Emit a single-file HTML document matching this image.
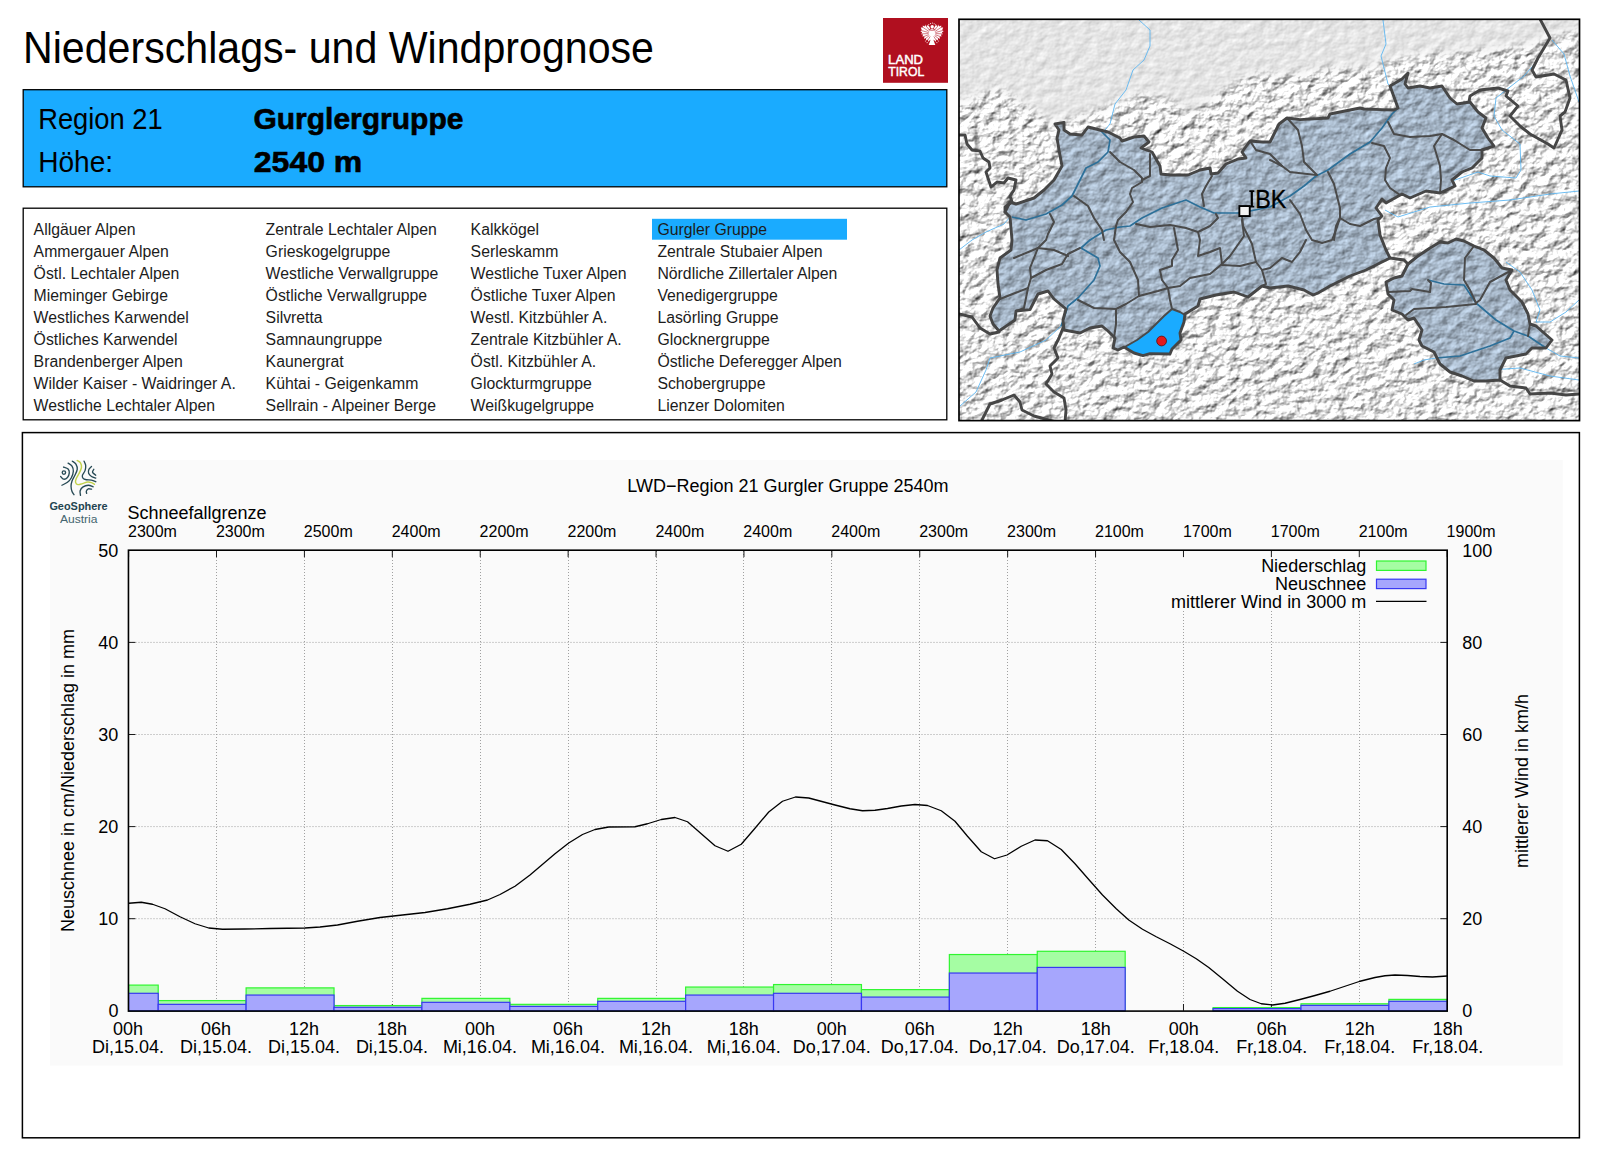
<!DOCTYPE html>
<html lang="de"><head><meta charset="utf-8"><title>Niederschlags- und Windprognose</title>
<style>html,body{margin:0;padding:0;background:#fff;}body{width:1600px;height:1153px;overflow:hidden;}svg{display:block;}text{font-family:'Liberation Sans', sans-serif;}</style>
</head><body>
<svg width="1600" height="1153" viewBox="0 0 1600 1153">
<rect width="1600" height="1153" fill="#fff"/>
<g id="header">
<text x="23.0" y="62.5" font-size="44" textLength="631" lengthAdjust="spacingAndGlyphs">Niederschlags- und Windprognose</text>
<rect x="23.2" y="89.7" width="923.6" height="97.1" fill="#1aabff" stroke="#000" stroke-width="1.3"/>
<text x="38.2" y="128.6" font-size="29" textLength="124.5" lengthAdjust="spacingAndGlyphs">Region 21</text>
<text x="253.4" y="128.6" font-size="29" font-weight="700" textLength="210" lengthAdjust="spacingAndGlyphs" stroke="#000" stroke-width="0.6">Gurglergruppe</text>
<text x="38.2" y="171.6" font-size="29" textLength="75" lengthAdjust="spacingAndGlyphs">Höhe:</text>
<text x="253.8" y="171.6" font-size="29" font-weight="700" textLength="108.5" lengthAdjust="spacingAndGlyphs" stroke="#000" stroke-width="0.6">2540 m</text>
</g>
<g id="landtirol">
<rect x="883" y="18" width="65" height="64.8" fill="#b00f1f"/>
<text x="888.1" y="63.9" font-size="12.3" fill="#fff" textLength="35" lengthAdjust="spacingAndGlyphs" stroke="#fff" stroke-width="0.45">LAND</text>
<text x="888.2" y="75.9" font-size="12.3" fill="#fff" textLength="36" lengthAdjust="spacingAndGlyphs" stroke="#fff" stroke-width="0.45">TIROL</text>
<g id="eagle" fill="#fff" transform="translate(932,34)"><path d="M1.2,-4.0 L2.6,-7.2 L4.2,-9.3 L5.2,-7.6 L6.6,-9.6 L7.4,-7.4 L9.2,-8.6 L9.3,-6.4 L11.2,-6.4 L10.3,-4.3 L11.6,-2.8 L9.9,-1.7 L10.9,0.2 L8.9,0.6 L9.6,2.7 L7.6,2.6 L7.9,4.9 L6.0,4.3 L5.9,6.6 L4.3,5.6 L3.6,7.8 L2.3,6.3 L1.2,5.0 Z"/><path d="M-1.2,-4.0 L-2.6,-7.2 L-4.2,-9.3 L-5.2,-7.6 L-6.6,-9.6 L-7.4,-7.4 L-9.2,-8.6 L-9.3,-6.4 L-11.2,-6.4 L-10.3,-4.3 L-11.6,-2.8 L-9.9,-1.7 L-10.9,0.2 L-8.9,0.6 L-9.6,2.7 L-7.6,2.6 L-7.9,4.9 L-6.0,4.3 L-5.9,6.6 L-4.3,5.6 L-3.6,7.8 L-2.3,6.3 L-1.2,5.0 Z"/><ellipse cx="0" cy="0.8" rx="2.7" ry="6.2"/><path d="M-1.3,5.5 L-3.3,10.9 L3.3,10.9 L1.3,5.5 Z"/><circle cx="0.2" cy="-7.2" r="1.7"/><circle cx="-1.4" cy="-10.4" r="0.55"/><circle cx="0.4" cy="-11" r="0.55"/><circle cx="2.1" cy="-10.2" r="0.55"/><circle cx="-3.2" cy="-9.4" r="0.5"/><circle cx="3.6" cy="-9.2" r="0.5"/><circle cx="-5" cy="8.6" r="0.7"/><circle cx="5" cy="8.6" r="0.7"/><circle cx="-6.6" cy="7" r="0.5"/><circle cx="6.6" cy="7" r="0.5"/><path d="M-2.1,-3.2 L-7.7,-10.4 M-2.8,-2.4 L-10.4,-7.5 M-3.3,-1.4 L-12.0,-3.9 M-3.4,-0.4 L-12.5,-0.1 M-3.2,0.7 L-11.7,3.8 M-2.7,1.6 L-9.9,7.2 M-1.8,2.4 L-6.6,10.1 M2.1,-3.2 L7.7,-10.4 M2.8,-2.4 L10.4,-7.5 M3.3,-1.4 L12.0,-3.9 M3.4,-0.4 L12.5,-0.1 M3.2,0.7 L11.7,3.8 M2.7,1.6 L9.9,7.2 M1.8,2.4 L6.6,10.1" stroke="#b00f1f" stroke-width="0.55" fill="none"/><path d="M-3.2,-5.2 a3.4,2.2 0 0 0 6.4,0" stroke="#b00f1f" stroke-width="0.7" fill="none"/></g>
</g>
<g id="list">
<rect x="23.2" y="208.2" width="923.6" height="211.6" fill="#fff" stroke="#000" stroke-width="1.3"/>
<rect x="652" y="218.8" width="195" height="20.9" fill="#1aabff"/>
<g font-size="15.8" fill="#1c1c1c">
<text x="33.6" y="234.6">Allgäuer Alpen</text>
<text x="33.6" y="256.6">Ammergauer Alpen</text>
<text x="33.6" y="278.6">Östl. Lechtaler Alpen</text>
<text x="33.6" y="300.6">Mieminger Gebirge</text>
<text x="33.6" y="322.6">Westliches Karwendel</text>
<text x="33.6" y="344.6">Östliches Karwendel</text>
<text x="33.6" y="366.6">Brandenberger Alpen</text>
<text x="33.6" y="388.6">Wilder Kaiser - Waidringer A.</text>
<text x="33.6" y="410.6">Westliche Lechtaler Alpen</text>
<text x="265.6" y="234.6">Zentrale Lechtaler Alpen</text>
<text x="265.6" y="256.6">Grieskogelgruppe</text>
<text x="265.6" y="278.6">Westliche Verwallgruppe</text>
<text x="265.6" y="300.6">Östliche Verwallgruppe</text>
<text x="265.6" y="322.6">Silvretta</text>
<text x="265.6" y="344.6">Samnaungruppe</text>
<text x="265.6" y="366.6">Kaunergrat</text>
<text x="265.6" y="388.6">Kühtai - Geigenkamm</text>
<text x="265.6" y="410.6">Sellrain - Alpeiner Berge</text>
<text x="470.6" y="234.6">Kalkkögel</text>
<text x="470.6" y="256.6">Serleskamm</text>
<text x="470.6" y="278.6">Westliche Tuxer Alpen</text>
<text x="470.6" y="300.6">Östliche Tuxer Alpen</text>
<text x="470.6" y="322.6">Westl. Kitzbühler A.</text>
<text x="470.6" y="344.6">Zentrale Kitzbühler A.</text>
<text x="470.6" y="366.6">Östl. Kitzbühler A.</text>
<text x="470.6" y="388.6">Glockturmgruppe</text>
<text x="470.6" y="410.6">Weißkugelgruppe</text>
<text x="657.4" y="234.6">Gurgler Gruppe</text>
<text x="657.4" y="256.6">Zentrale Stubaier Alpen</text>
<text x="657.4" y="278.6">Nördliche Zillertaler Alpen</text>
<text x="657.4" y="300.6">Venedigergruppe</text>
<text x="657.4" y="322.6">Lasörling Gruppe</text>
<text x="657.4" y="344.6">Glocknergruppe</text>
<text x="657.4" y="366.6">Östliche Deferegger Alpen</text>
<text x="657.4" y="388.6">Schobergruppe</text>
<text x="657.4" y="410.6">Lienzer Dolomiten</text>
</g></g>
<g id="map">
<defs>
<clipPath id="mapclip"><rect x="959" y="19.3" width="620.5" height="401.3"/></clipPath>
<filter id="fbg" x="0" y="0" width="100%" height="100%" color-interpolation-filters="sRGB"><feTurbulence type="fractalNoise" baseFrequency="0.085 0.11" numOctaves="5" seed="5" result="n"/><feDiffuseLighting in="n" surfaceScale="2.6" diffuseConstant="1.25" lighting-color="#ffffff" result="l"><feDistantLight azimuth="225" elevation="48"/></feDiffuseLighting><feComposite in="l" in2="SourceGraphic" operator="in"/></filter>
<filter id="ftir" x="0" y="0" width="100%" height="100%" color-interpolation-filters="sRGB"><feTurbulence type="fractalNoise" baseFrequency="0.085 0.11" numOctaves="5" seed="5" result="n"/><feDiffuseLighting in="n" surfaceScale="1.5" diffuseConstant="1.2" lighting-color="#b7c9dc" result="l"><feDistantLight azimuth="225" elevation="48"/></feDiffuseLighting><feComposite in="l" in2="SourceGraphic" operator="in"/></filter>
<filter id="fflat" x="-5%" y="-10%" width="110%" height="120%" color-interpolation-filters="sRGB"><feTurbulence type="fractalNoise" baseFrequency="0.085 0.11" numOctaves="5" seed="5" result="n"/><feDiffuseLighting in="n" surfaceScale="0.45" diffuseConstant="1.205" lighting-color="#ffffff" result="l"><feDistantLight azimuth="225" elevation="48"/></feDiffuseLighting><feGaussianBlur in="SourceGraphic" stdDeviation="4" result="b"/><feComposite in="l" in2="b" operator="in"/></filter>
</defs>
<g clip-path="url(#mapclip)">
<rect x="959" y="19" width="621" height="402" fill="#dedede"/>
<rect x="959" y="19" width="621" height="402" fill="#dedede" filter="url(#fbg)"/>
<path d="M950,10 L1590,10 L1590,28 L1550,38 L1526,46 L1494,50 L1462,54 L1430,54 L1402,58 L1382,64 L1358,70 L1334,68 L1310,72 L1282,76 L1262,74 L1246,78 L1226,88 L1206,104 L1190,112 L1174,102 L1150,94 L1126,98 L1110,106 L1082,116 L1050,124 L1030,108 L998,88 L974,98 L950,104 Z" fill="#e4e4e4" filter="url(#fflat)"/>
<g fill="none" stroke="#5db7f2" stroke-width="0.9" stroke-linejoin="round">
<path d="M1139,20 L1150,30 L1150,46 L1144,60 L1133,70 L1126,90 L1115,104 L1110,124 L1105,130"/>
<path d="M1010,217 L1004,224 L986,232 L972,240 L959,250"/>
<path d="M1061,326 L1046,340 L1020,352 L990,358 L986,370 L976,392 L960,406"/>
<path d="M1390,86 L1388,84 L1381,56 L1386,44 L1383,20"/>
<path d="M1579,102 L1570,76 L1564,54 L1552,40"/>
<path d="M1538,60 L1524,76 L1510,87 L1496,98 L1494,116 L1502,130 L1520,144 L1521,170 L1516,178 L1490,176 L1478,172 L1452,181"/>
<path d="M1385,210 L1398,217 L1430,207 L1470,203 L1510,200 L1550,194 L1579,191"/>
<path d="M1506,262 L1520,272 L1532,290 L1540,310 L1536,322 L1550,322 L1566,312 L1579,300"/>
<path d="M1414,364 L1424,360 L1436,358"/>
<path d="M1470,364 L1490,370 L1520,368 L1550,376 L1579,380"/>
<path d="M1546,348 L1560,356 L1579,358"/>
</g>
<path d="M1005,212 L1010,202 L1016,204 L1034,198 L1044,190 L1054,180 L1062,166 L1059,150 L1057,138 L1059,130 L1055,124 L1064,122.4 L1064,130 L1070,134 L1082,135 L1088,127 L1100,130 L1108,132 L1120,138 L1122,141 L1134,137 L1144,136 L1149,142 L1141,148 L1152,152 L1160,166 L1161,174 L1170,175 L1188,175 L1200,170 L1210,168 L1211,174 L1218,173 L1226,164 L1238,159 L1246,158 L1242,152 L1250,141 L1262,142 L1270,142 L1279,124 L1287,118 L1300,119.6 L1328,118 L1330,114 L1360,108 L1364,109 L1382,109.6 L1394,110 L1398,108 L1390,86 L1402,79 L1408,73 L1405,84 L1408,88 L1420,86 L1430,88 L1442,86 L1450,98 L1457,104 L1470,102 L1478,112 L1486,118 L1482,128 L1488,138 L1494,146 L1482,150 L1482,158 L1472,168 L1462,172 L1452,180 L1455,186 L1440,193 L1426,191 L1410,198 L1402,194 L1386,203 L1382,199 L1376,208 L1382,216 L1378,220 L1380,235 L1386,250 L1390,258 L1378,264 L1366,270 L1350,276 L1330,286 L1318,293 L1313,295 L1304,290 L1288,286 L1270,288 L1262,286 L1248,297 L1234,292 L1216,295 L1200,299 L1198,306 L1185,314 L1184,322 L1180,333 L1181,340 L1172,349 L1170,354 L1150,353.6 L1143,355.6 L1134,353 L1124,347 L1118,350 L1113,348 L1115,338 L1108,331 L1102,326 L1090,328 L1080,333 L1064,330 L1063,320 L1066,309 L1054,299 L1048,291 L1038,294 L1030,309.6 L1016,311 L1015,320 L999,331 L993,324 L990,316 L993,308 L1000,298 L998,284 L997,270 L1000,258 L1011,250 L1012,240 L1010,217 Z M1408,264 L1418,256 L1430,248 L1440,242 L1448,243 L1456,239 L1464,241 L1474,246 L1484,250 L1494,258 L1502,268 L1512,270 L1506,280 L1510,290 L1522,302 L1528,314 L1530,324 L1536,326 L1552,340 L1546,348 L1532,348 L1526,354 L1506,358 L1500,370 L1500,380 L1486,381 L1474,381 L1462,376 L1450,372 L1440,364 L1434,352 L1422,346 L1419,340 L1422,330 L1414,318 L1408,320 L1402,314 L1392,310 L1394,300 L1388,294 L1386,282 L1394,278 L1402,276 Z" fill="#9aabbd" filter="url(#ftir)"/>
<path d="M1123,348 L1137,340 L1148,332 L1156,324 L1164,316 L1172,309 L1180,312 L1185,315 L1184,322 L1180,333 L1181,340 L1172,349 L1170,354 L1150,353.6 L1143,355.6 L1134,353 L1124,347 Z" fill="#1aabff" stroke="none"/>
<g fill="none" stroke="#2d7099" stroke-width="1.7" stroke-linejoin="round">
<path d="M1100,130 L1110,140 L1108,152 L1098,162 L1086,168 L1078,184 L1072,196 L1062,205 L1046,214 L1026,220 L1012,217"/>
<path d="M1061,326 L1064,318 L1068,306 L1078,298 L1094,280 L1100,266 L1098,258 L1081,248 L1090,240 L1106,230 L1120,227 L1130,226 L1142,218 L1162,208 L1186,200 L1200,207 L1214,213 L1238,213 L1250,211 L1270,207 L1290,196 L1304,186 L1316,176 L1328,170 L1350,154 L1370,142 L1382,128 L1392,114 L1398,108 L1390,86"/>
<path d="M1428,280 L1444,284 L1464,285 L1476,303 L1496,320 L1514,331 L1528,336 L1546,348"/>
<path d="M1436,358 L1460,356 L1490,346 L1510,338 L1514,331"/>
</g>
<g fill="none" stroke="#4a4a4a" stroke-width="2" stroke-linejoin="round" stroke-linecap="round">
<path d="M1110,152 L1120,162 L1134,170 L1142,178 L1142,182 L1132,188 L1130,194 L1133,202 L1126,212 L1118,220 L1116,226"/>
<path d="M1150,154 L1150,176 L1142,180"/>
<path d="M1074,196 L1088,206 L1094,218 L1102,230 L1104,240"/>
<path d="M1050,214 L1054,222 L1048,234 L1046,240 L1038,248 L1014,258"/>
<path d="M1212,176 L1206,186 L1202,194 L1204,206"/>
<path d="M1136,224 L1150,227 L1170,225 L1186,228 L1198,232 L1210,226 L1218,218 L1216,214"/>
<path d="M1242,216 L1243,226 L1250,240 L1252,244 L1256,262 L1262,270 L1266,284 L1262,286"/>
<path d="M1198,232 L1200,240 L1198,256 L1210,252 L1220,248 L1222,264"/>
<path d="M1174,228 L1178,250 L1172,260 L1172,266 L1160,270 L1162,280 L1168,288"/>
<path d="M1250,141 L1256,150 L1270,154 L1282,166"/>
<path d="M1038,248 L1030,268 L1031,278 L1028,288 L1000,299"/>
<path d="M1031,278 L1046,270 L1062,264 L1068,254 L1080,248"/>
<path d="M1038,248 L1054,250 L1068,256"/>
<path d="M1028,288 L1024,308 L1016,311"/>
<path d="M1116,226 L1114,240 L1120,252 L1130,262 L1138,280 L1139,296 L1126,304 L1116,309 L1094,308 L1078,300"/>
<path d="M1116,309 L1116,324 L1114,338"/>
<path d="M1139,296 L1158,291 L1168,288 L1170,300 L1172,309"/>
<path d="M1168,288 L1180,286 L1190,278 L1210,274 L1222,264 L1230,256 L1244,236 L1242,220"/>
<path d="M1222,265 L1240,266 L1256,262"/>
<path d="M1262,270 L1270,268 L1282,258 L1292,262 L1300,252 L1306,240"/>
<path d="M1287,118 L1298,130 L1302,146 L1304,162 L1314,172 L1317,175"/>
<path d="M1270,160 L1282,166 L1290,172 L1316,175"/>
<path d="M1328,172 L1334,184 L1340,208 L1340,218 L1336,226 L1334,240"/>
<path d="M1290,200 L1300,214 L1306,230 L1312,240 L1322,243 L1332,240 L1336,230 L1340,218"/>
<path d="M1372,143 L1384,146 L1390,158 L1386,168 L1385,180 L1390,188 L1400,195"/>
<path d="M1388,122 L1394,134 L1410,137 L1430,136 L1442,134 L1454,140 L1470,150 L1482,150"/>
<path d="M1442,134 L1434,146 L1440,166 L1441,180 L1440,193"/>
<path d="M1340,218 L1350,224 L1360,226 L1374,219 L1379,218"/>
<path d="M1123,348 L1137,340 L1148,332 L1156,324 L1164,316 L1172,309"/>
<path d="M1172,309 L1180,312 L1185,315"/>
<path d="M1474,246 L1465,258 L1464,280 L1470,290 L1476,303"/>
<path d="M1512,270 L1490,282 L1480,300 L1476,303"/>
<path d="M1388,292 L1410,291 L1412,289 L1430,292 L1431,283 L1428,280"/>
<path d="M1406,315 L1414,309 L1446,307 L1476,304"/>
<path d="M1528,336 L1530,324"/>
</g>
<g fill="none" stroke="#464646" stroke-width="2.9" stroke-linejoin="round" stroke-linecap="round">
<path d="M1005,212 L1010,202 L1016,204 L1034,198 L1044,190 L1054,180 L1062,166 L1059,150 L1057,138 L1059,130 L1055,124 L1064,122.4 L1064,130 L1070,134 L1082,135 L1088,127 L1100,130 L1108,132 L1120,138 L1122,141 L1134,137 L1144,136 L1149,142 L1141,148 L1152,152 L1160,166 L1161,174 L1170,175 L1188,175 L1200,170 L1210,168 L1211,174 L1218,173 L1226,164 L1238,159 L1246,158 L1242,152 L1250,141 L1262,142 L1270,142 L1279,124 L1287,118 L1300,119.6 L1328,118 L1330,114 L1360,108 L1364,109 L1382,109.6 L1394,110 L1398,108 L1390,86 L1402,79 L1408,73 L1405,84 L1408,88 L1420,86 L1430,88 L1442,86 L1450,98 L1457,104 L1470,102 L1478,112 L1486,118 L1482,128 L1488,138 L1494,146 L1482,150 L1482,158 L1472,168 L1462,172 L1452,180 L1455,186 L1440,193 L1426,191 L1410,198 L1402,194 L1386,203 L1382,199 L1376,208 L1382,216 L1378,220 L1380,235 L1386,250 L1390,258 L1378,264 L1366,270 L1350,276 L1330,286 L1318,293 L1313,295 L1304,290 L1288,286 L1270,288 L1262,286 L1248,297 L1234,292 L1216,295 L1200,299 L1198,306 L1185,314 L1184,322 L1180,333 L1181,340 L1172,349 L1170,354 L1150,353.6 L1143,355.6 L1134,353 L1124,347 L1118,350 L1113,348 L1115,338 L1108,331 L1102,326 L1090,328 L1080,333 L1064,330 L1063,320 L1066,309 L1054,299 L1048,291 L1038,294 L1030,309.6 L1016,311 L1015,320 L999,331 L993,324 L990,316 L993,308 L1000,298 L998,284 L997,270 L1000,258 L1011,250 L1012,240 L1010,217 L1005,212"/>
<path d="M1408,264 L1418,256 L1430,248 L1440,242 L1448,243 L1456,239 L1464,241 L1474,246 L1484,250 L1494,258 L1502,268 L1512,270 L1506,280 L1510,290 L1522,302 L1528,314 L1530,324 L1536,326 L1552,340 L1546,348 L1532,348 L1526,354 L1506,358 L1500,370 L1500,380 L1486,381 L1474,381 L1462,376 L1450,372 L1440,364 L1434,352 L1422,346 L1419,340 L1422,330 L1414,318 L1408,320 L1402,314 L1392,310 L1394,300 L1388,294 L1386,282 L1394,278 L1402,276 L1408,264"/>
<path d="M1390,258 L1404,260 L1408,264"/>
<path d="M1469,102 L1470,96 L1480,90 L1498,88 L1508,91 L1506,96 L1518,106 L1510,116 L1520,126 L1530,134 L1548,144 L1554,148 L1562,130 L1560,116 L1565,112 L1570,98 L1566,80 L1554,74 L1536,77 L1532,70 L1538,58 L1550,38 L1540,19"/>
<path d="M959,135 L965,135 L967,144 L972,150 L980,151 L983,158 L989,162 L990,168 L986,172 L991,187 L997,182 L1004,183 L1008,178 L1016,180 L1014,190 L1010,196 L1012,202 L1005,207 L1005,212"/>
<path d="M959,314 L972,317 L980,328 L990,334 L999,332"/>
<path d="M1063,328 L1059,338 L1054,348 L1058,358 L1050,366 L1052,374 L1046,384 L1054,392 L1064,398 L1066,410 L1065,422"/>
<path d="M981,422 L990,404 L1002,400 L1014,395 L1020,402 L1022,410 L1034,416 L1056,422"/>
<path d="M1500,380 L1510,386 L1526,388 L1530,394 L1550,393 L1566,395 L1579,394"/>
</g>
<circle cx="1161.6" cy="341" r="4.9" fill="#e3191c" stroke="#5a1010" stroke-width="0.8"/>
<rect x="1239.35" y="206.05" width="10.4" height="10" fill="#f3f3f3" stroke="#000" stroke-width="1.9"/>
<path d="M1249.3,190.3 h5 v1.8 h-1.4 v13.7 h1.4 v1.8 h-5 v-1.8 h1.4 v-13.7 h-1.4 Z" fill="#000"/><text x="1255.2" y="207.6" font-size="25" textLength="31.2" lengthAdjust="spacingAndGlyphs" stroke="#000" stroke-width="0.3">BK</text>
</g>
<rect x="959" y="19.3" width="620.5" height="401.3" fill="none" stroke="#000" stroke-width="1.7"/>
</g>
<g id="chart">
<rect x="22.4" y="432.6" width="1557" height="705.2" fill="#fff" stroke="#000" stroke-width="1.5"/>
<rect x="50" y="460" width="1512.8" height="605.5" fill="#fafafa"/>
<g fill="none" stroke="#274a55" stroke-width="1.35" stroke-linecap="round">
<circle cx="63.9" cy="472.6" r="1.7"/>
<path d="M63.57,467.04 C64.33,467.36 67.17,468.01 68.12,468.99 C69.08,469.96 69.40,471.48 69.29,472.89 C69.18,474.30 68.42,476.39 67.47,477.45 C66.52,478.50 64.71,479.37 63.57,479.20 C62.43,479.04 61.13,476.93 60.64,476.47"/>
<path d="M68.12,463.13 C68.77,463.62 71.16,464.71 72.02,466.06 C72.89,467.42 73.43,469.31 73.33,471.27 C73.22,473.22 72.35,475.93 71.37,477.77 C70.40,479.62 69.04,481.08 67.47,482.33 C65.90,483.57 62.86,484.77 61.94,485.25"/>
<path d="M72.35,461.18 C72.95,461.67 75.12,462.75 75.93,464.11 C76.74,465.46 77.45,467.36 77.23,469.31 C77.01,471.27 75.49,473.87 74.63,475.82 C73.76,477.77 72.62,479.29 72.02,481.02 C71.43,482.76 71.05,484.49 71.05,486.23 C71.05,487.96 71.54,490.02 72.02,491.43 C72.51,492.84 73.65,494.15 73.98,494.69"/>
<path d="M84.06,461.18 C84.33,461.89 85.53,463.84 85.69,465.41 C85.85,466.98 85.58,468.99 85.04,470.61 C84.49,472.24 82.76,473.87 82.43,475.17 C82.11,476.47 82.43,477.66 83.09,478.42 C83.74,479.18 84.93,479.45 86.34,479.72 C87.75,479.99 89.97,479.72 91.54,480.05 C93.12,480.37 95.07,481.40 95.77,481.68"/>
<path d="M91.54,466.39 C91.11,466.87 89.43,468.18 88.94,469.31 C88.45,470.45 88.18,472.02 88.62,473.22 C89.05,474.41 90.35,475.66 91.54,476.47 C92.74,477.28 95.07,477.83 95.77,478.10"/>
<path d="M93.82,469.31 C93.60,469.80 92.19,471.27 92.52,472.24 C92.84,473.22 95.23,474.68 95.77,475.17"/>
<path d="M93.17,486.88 C92.36,486.61 89.97,485.25 88.29,485.25 C86.61,485.25 84.44,485.96 83.09,486.88 C81.73,487.80 80.59,489.37 80.16,490.78 C79.72,492.19 80.43,494.58 80.48,495.34"/>
<path d="M91.54,489.16 C91.00,489.10 89.16,488.51 88.29,488.83 C87.42,489.16 86.61,490.35 86.34,491.11 C86.07,491.87 86.61,493.01 86.66,493.39"/>
</g>
<path d="M77.23,460.53 C77.77,460.91 79.78,461.67 80.48,462.81 C81.19,463.95 81.68,465.63 81.46,467.36 C81.24,469.10 80.05,471.37 79.18,473.22 C78.31,475.06 76.85,476.90 76.25,478.42 C75.66,479.94 75.33,481.30 75.60,482.33 C75.87,483.36 76.74,484.39 77.88,484.60 C79.02,484.82 80.81,484.06 82.43,483.63 C84.06,483.19 86.12,482.16 87.64,482.00 C89.16,481.84 90.40,482.27 91.54,482.65 C92.68,483.03 93.98,484.01 94.47,484.28" fill="none" stroke="#c2d24c" stroke-width="1.45" stroke-linecap="round"/>
<text x="49.4" y="510.3" font-size="11.3" font-weight="700" fill="#1f4450" textLength="58.2" lengthAdjust="spacingAndGlyphs">GeoSphere</text>
<text x="59.9" y="522.7" font-size="11.4" fill="#44656f" textLength="37.6" lengthAdjust="spacingAndGlyphs">Austria</text>
<g stroke="#a0a0a0" stroke-width="1" stroke-dasharray="1 2" fill="none">
<path d="M216.50,551 V1010.8"/>
<path d="M304.50,551 V1010.8"/>
<path d="M392.50,551 V1010.8"/>
<path d="M480.50,551 V1010.8"/>
<path d="M568.50,551 V1010.8"/>
<path d="M656.50,551 V1010.8"/>
<path d="M743.50,551 V1010.8"/>
<path d="M831.50,551 V1010.8"/>
<path d="M919.50,551 V1010.8"/>
<path d="M1007.50,551 V1010.8"/>
<path d="M1095.50,551 V1010.8"/>
<path d="M1183.50,551 V1010.8"/>
<path d="M1271.50,551 V1010.8"/>
<path d="M1359.50,551 V1010.8"/>
<path d="M129.5,918.70 H1447.2"/>
<path d="M129.5,826.60 H1447.2"/>
<path d="M129.5,734.50 H1447.2"/>
<path d="M129.5,642.40 H1447.2"/>
</g>
<rect x="1166" y="551.2" width="280.4" height="59.4" fill="#fafafa"/>
<g stroke="#1a1a1a" stroke-width="1" fill="none">
<path d="M128.60,550.3 v6.8 M128.60,1010.8 v-6.8"/>
<path d="M216.51,550.3 v6.8 M216.51,1010.8 v-6.8"/>
<path d="M304.41,550.3 v6.8 M304.41,1010.8 v-6.8"/>
<path d="M392.32,550.3 v6.8 M392.32,1010.8 v-6.8"/>
<path d="M480.23,550.3 v6.8 M480.23,1010.8 v-6.8"/>
<path d="M568.13,550.3 v6.8 M568.13,1010.8 v-6.8"/>
<path d="M656.04,550.3 v6.8 M656.04,1010.8 v-6.8"/>
<path d="M743.95,550.3 v6.8 M743.95,1010.8 v-6.8"/>
<path d="M831.85,550.3 v6.8 M831.85,1010.8 v-6.8"/>
<path d="M919.76,550.3 v6.8 M919.76,1010.8 v-6.8"/>
<path d="M1007.67,550.3 v6.8 M1007.67,1010.8 v-6.8"/>
<path d="M1095.57,550.3 v6.8 M1095.57,1010.8 v-6.8"/>
<path d="M1183.48,550.3 v6.8 M1183.48,1010.8 v-6.8"/>
<path d="M1271.39,550.3 v6.8 M1271.39,1010.8 v-6.8"/>
<path d="M1359.29,550.3 v6.8 M1359.29,1010.8 v-6.8"/>
<path d="M1447.20,550.3 v6.8 M1447.20,1010.8 v-6.8"/>
<path d="M128.6,918.70 h6.8 M1447.2,918.70 h-6.8"/>
<path d="M128.6,826.60 h6.8 M1447.2,826.60 h-6.8"/>
<path d="M128.6,734.50 h6.8 M1447.2,734.50 h-6.8"/>
<path d="M128.6,642.40 h6.8 M1447.2,642.40 h-6.8"/>
</g>
<g fill="#a5fda3" stroke="#30f530" stroke-width="1.2">
<rect x="128.60" y="985.10" width="29.60" height="25.70"/>
<rect x="158.20" y="1000.58" width="87.91" height="10.22"/>
<rect x="246.11" y="987.87" width="87.91" height="22.93"/>
<rect x="334.02" y="1005.55" width="87.91" height="5.25"/>
<rect x="421.92" y="998.37" width="87.91" height="12.43"/>
<rect x="509.83" y="1004.35" width="87.91" height="6.45"/>
<rect x="597.74" y="998.37" width="87.91" height="12.43"/>
<rect x="685.64" y="987.04" width="87.91" height="23.76"/>
<rect x="773.55" y="984.55" width="87.91" height="26.25"/>
<rect x="861.46" y="989.62" width="87.91" height="21.18"/>
<rect x="949.36" y="954.53" width="87.91" height="56.27"/>
<rect x="1037.27" y="951.30" width="87.91" height="59.50"/>
<rect x="1213.08" y="1007.58" width="87.91" height="3.22"/>
<rect x="1300.99" y="1003.80" width="87.91" height="7.00"/>
<rect x="1388.90" y="999.38" width="58.30" height="11.42"/>
</g>
<g fill="#a6a6fd" stroke="#3838f2" stroke-width="1.2">
<rect x="128.60" y="993.30" width="29.60" height="17.50"/>
<rect x="158.20" y="1004.35" width="87.91" height="6.45"/>
<rect x="246.11" y="995.05" width="87.91" height="15.75"/>
<rect x="334.02" y="1007.30" width="87.91" height="3.50"/>
<rect x="421.92" y="1002.33" width="87.91" height="8.47"/>
<rect x="509.83" y="1006.38" width="87.91" height="4.42"/>
<rect x="597.74" y="1001.31" width="87.91" height="9.49"/>
<rect x="685.64" y="995.05" width="87.91" height="15.75"/>
<rect x="773.55" y="993.30" width="87.91" height="17.50"/>
<rect x="861.46" y="997.08" width="87.91" height="13.72"/>
<rect x="949.36" y="973.04" width="87.91" height="37.76"/>
<rect x="1037.27" y="967.42" width="87.91" height="43.38"/>
<rect x="1213.08" y="1008.59" width="87.91" height="2.21"/>
<rect x="1300.99" y="1005.37" width="87.91" height="5.43"/>
<rect x="1388.90" y="1001.31" width="58.30" height="9.49"/>
</g>
<polyline fill="none" stroke="#000" stroke-width="1.3" stroke-linejoin="round" points="128.75,903.25 141.25,902.25 152.50,904.25 165.00,908.75 180.00,916.75 195.00,923.75 208.75,928.00 222.50,929.25 245.00,929.00 270.00,928.50 305.00,928.00 320.00,927.00 337.50,925.00 357.50,921.25 380.00,917.50 402.50,915.00 425.00,912.50 447.50,908.75 470.00,904.25 487.50,900.00 500.00,894.50 515.00,886.25 530.00,875.00 555.00,853.75 568.75,843.00 582.50,834.50 595.00,829.50 608.75,827.00 635.00,826.75 647.50,823.75 661.25,819.50 675.00,817.50 687.50,821.75 701.25,833.75 715.00,845.75 728.00,851.25 741.25,844.25 755.00,828.25 768.75,812.00 782.50,801.25 795.50,797.00 808.75,798.00 835.00,805.00 850.00,808.75 862.50,810.75 875.00,810.25 887.50,808.50 901.25,806.00 915.00,804.50 927.50,805.50 941.25,810.75 955.00,821.25 967.50,836.25 981.25,851.75 994.50,858.75 1007.00,855.00 1021.25,846.25 1035.00,840.00 1047.50,840.75 1061.25,849.50 1075.00,863.75 1088.75,879.50 1102.50,895.00 1116.25,908.75 1128.75,920.00 1142.50,929.25 1156.25,936.75 1170.00,943.75 1183.75,951.25 1196.25,958.75 1208.75,967.50 1222.50,978.75 1237.50,991.25 1250.00,999.50 1261.25,1003.75 1272.50,1005.00 1285.00,1003.25 1300.00,999.50 1315.00,995.50 1330.00,991.25 1345.00,986.25 1360.00,981.25 1375.00,977.50 1385.00,975.75 1395.00,975.00 1407.50,975.50 1420.00,976.50 1432.50,977.00 1447.20,976.00"/>
<rect x="128.45" y="550.2" width="1318.75" height="460.90" fill="none" stroke="#000" stroke-width="1.6"/>
<g font-size="18">
<text x="787.9" y="492.4" font-size="18" text-anchor="middle">LWD−Region 21 Gurgler Gruppe 2540m</text>
<text x="127.5" y="518.6" font-size="18">Schneefallgrenze</text>
<text x="118.4" y="1017.0" font-size="18" text-anchor="end">0</text>
<text x="1462.2" y="1017.0" font-size="18">0</text>
<text x="118.4" y="924.9" font-size="18" text-anchor="end">10</text>
<text x="1462.2" y="924.9" font-size="18">20</text>
<text x="118.4" y="832.8" font-size="18" text-anchor="end">20</text>
<text x="1462.2" y="832.8" font-size="18">40</text>
<text x="118.4" y="740.7" font-size="18" text-anchor="end">30</text>
<text x="1462.2" y="740.7" font-size="18">60</text>
<text x="118.4" y="648.6" font-size="18" text-anchor="end">40</text>
<text x="1462.2" y="648.6" font-size="18">80</text>
<text x="118.4" y="556.5" font-size="18" text-anchor="end">50</text>
<text x="1462.2" y="556.5" font-size="18">100</text>
<text x="128.0" y="1035.2" font-size="18" text-anchor="middle">00h</text>
<text x="128.0" y="1053.2" font-size="18" text-anchor="middle">Di,15.04.</text>
<text x="216.0" y="1035.2" font-size="18" text-anchor="middle">06h</text>
<text x="216.0" y="1053.2" font-size="18" text-anchor="middle">Di,15.04.</text>
<text x="304.0" y="1035.2" font-size="18" text-anchor="middle">12h</text>
<text x="304.0" y="1053.2" font-size="18" text-anchor="middle">Di,15.04.</text>
<text x="391.9" y="1035.2" font-size="18" text-anchor="middle">18h</text>
<text x="391.9" y="1053.2" font-size="18" text-anchor="middle">Di,15.04.</text>
<text x="479.9" y="1035.2" font-size="18" text-anchor="middle">00h</text>
<text x="479.9" y="1053.2" font-size="18" text-anchor="middle">Mi,16.04.</text>
<text x="567.9" y="1035.2" font-size="18" text-anchor="middle">06h</text>
<text x="567.9" y="1053.2" font-size="18" text-anchor="middle">Mi,16.04.</text>
<text x="655.9" y="1035.2" font-size="18" text-anchor="middle">12h</text>
<text x="655.9" y="1053.2" font-size="18" text-anchor="middle">Mi,16.04.</text>
<text x="743.8" y="1035.2" font-size="18" text-anchor="middle">18h</text>
<text x="743.8" y="1053.2" font-size="18" text-anchor="middle">Mi,16.04.</text>
<text x="831.8" y="1035.2" font-size="18" text-anchor="middle">00h</text>
<text x="831.8" y="1053.2" font-size="18" text-anchor="middle">Do,17.04.</text>
<text x="919.8" y="1035.2" font-size="18" text-anchor="middle">06h</text>
<text x="919.8" y="1053.2" font-size="18" text-anchor="middle">Do,17.04.</text>
<text x="1007.8" y="1035.2" font-size="18" text-anchor="middle">12h</text>
<text x="1007.8" y="1053.2" font-size="18" text-anchor="middle">Do,17.04.</text>
<text x="1095.7" y="1035.2" font-size="18" text-anchor="middle">18h</text>
<text x="1095.7" y="1053.2" font-size="18" text-anchor="middle">Do,17.04.</text>
<text x="1183.7" y="1035.2" font-size="18" text-anchor="middle">00h</text>
<text x="1183.7" y="1053.2" font-size="18" text-anchor="middle">Fr,18.04.</text>
<text x="1271.7" y="1035.2" font-size="18" text-anchor="middle">06h</text>
<text x="1271.7" y="1053.2" font-size="18" text-anchor="middle">Fr,18.04.</text>
<text x="1359.7" y="1035.2" font-size="18" text-anchor="middle">12h</text>
<text x="1359.7" y="1053.2" font-size="18" text-anchor="middle">Fr,18.04.</text>
<text x="1447.7" y="1035.2" font-size="18" text-anchor="middle">18h</text>
<text x="1447.7" y="1053.2" font-size="18" text-anchor="middle">Fr,18.04.</text>
<text x="1366.2" y="571.6" font-size="18" text-anchor="end">Niederschlag</text>
<text x="1366.2" y="589.6" font-size="18" text-anchor="end">Neuschnee</text>
<text x="1366.2" y="607.6" font-size="18" text-anchor="end">mittlerer Wind in 3000 m</text>
</g>
<rect x="1376.5" y="561" width="49.5" height="9.4" fill="#a5fda3" stroke="#30f530" stroke-width="1.2"/>
<rect x="1376.5" y="579.2" width="49.5" height="9.4" fill="#a6a6fd" stroke="#3838f2" stroke-width="1.2"/>
<path d="M1376,601.4 H1426.5" stroke="#000" stroke-width="1.2"/>
<g font-size="16">
<text x="128.0" y="537">2300m</text>
<text x="215.9" y="537">2300m</text>
<text x="303.8" y="537">2500m</text>
<text x="391.7" y="537">2400m</text>
<text x="479.6" y="537">2200m</text>
<text x="567.5" y="537">2200m</text>
<text x="655.4" y="537">2400m</text>
<text x="743.3" y="537">2400m</text>
<text x="831.3" y="537">2400m</text>
<text x="919.2" y="537">2300m</text>
<text x="1007.1" y="537">2300m</text>
<text x="1095.0" y="537">2100m</text>
<text x="1182.9" y="537">1700m</text>
<text x="1270.8" y="537">1700m</text>
<text x="1358.7" y="537">2100m</text>
<text x="1446.6" y="537">1900m</text>
</g>
<text font-size="18" text-anchor="middle" transform="translate(74.2,780.5) rotate(-90)">Neuschnee in cm/Niederschlag in mm</text>
<text font-size="18" text-anchor="middle" transform="translate(1528,781) rotate(-90)">mittlerer Wind in km/h</text>
</g>
</svg></body></html>
